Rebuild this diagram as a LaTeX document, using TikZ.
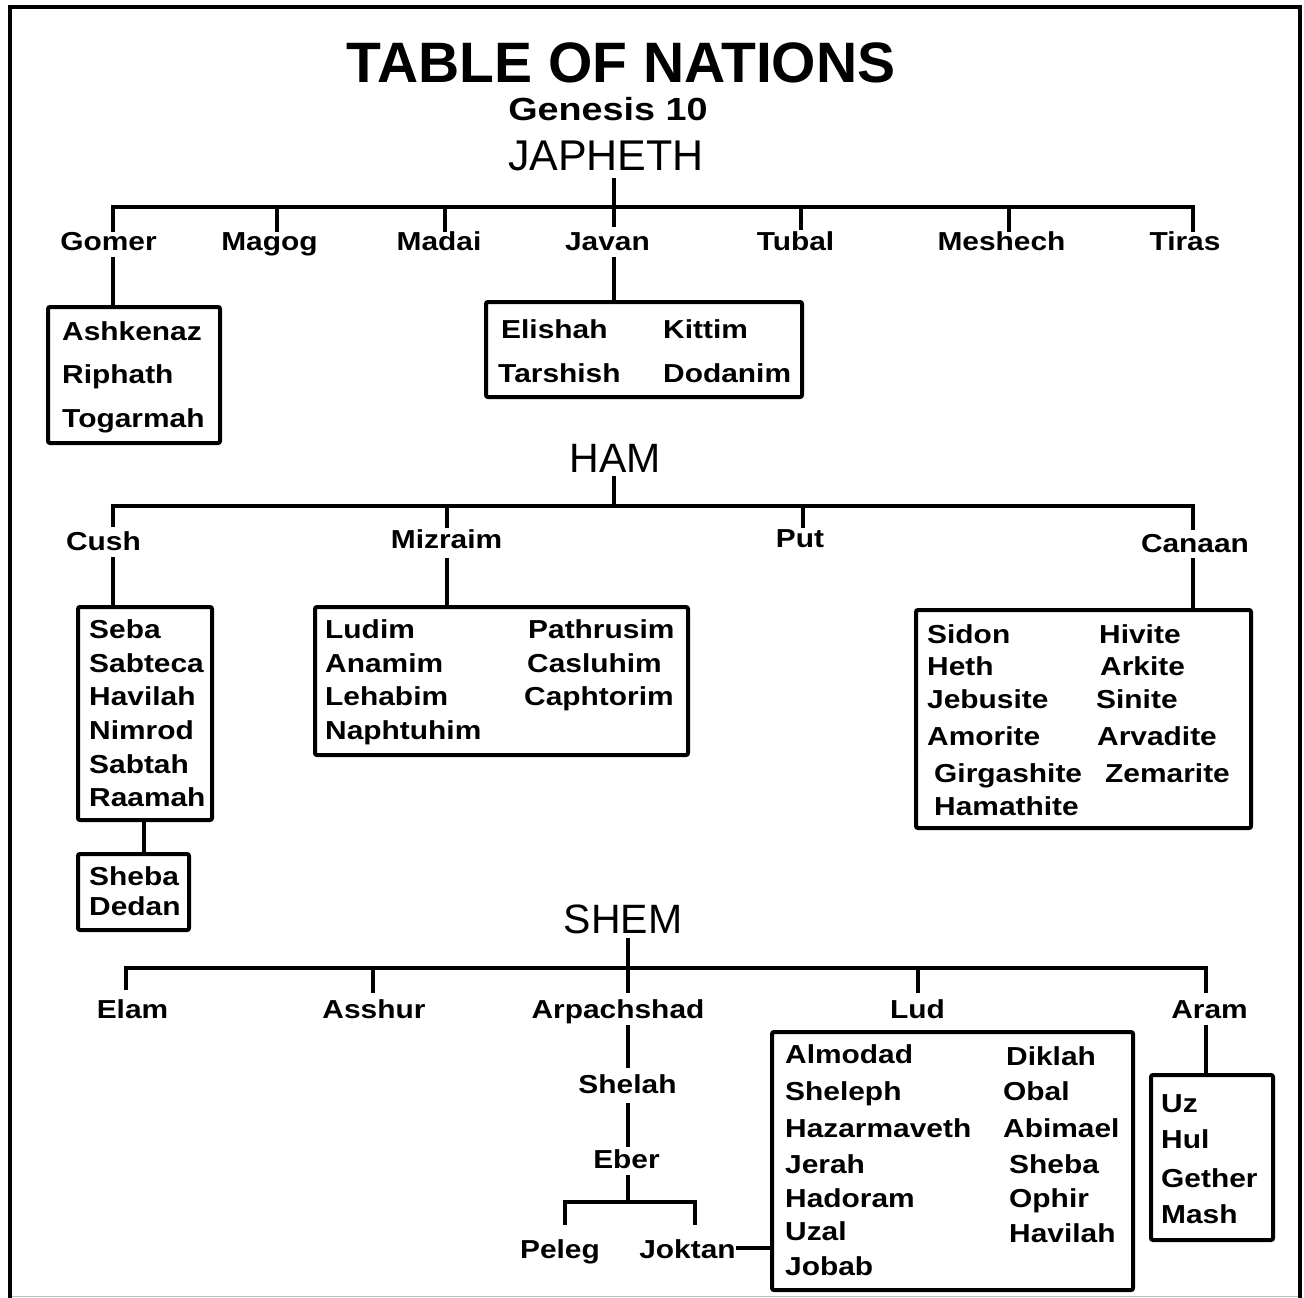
\documentclass[tikz,border=0pt]{standalone}
\usepackage{fontspec}
\setmainfont{Liberation Sans}
\newfontfamily\nmfam[FakeStretch=1.15]{Liberation Sans}
\newfontfamily\genfam[FakeStretch=1.18]{Liberation Sans}
\begin{document}
\begin{tikzpicture}[x=1pt,y=-1pt,
  ln/.style={line width=4pt},
  nm/.style={font=\nmfam\bfseries\fontsize{26}{30}\selectfont, inner sep=0pt, anchor=base},
  lst/.style={nm, anchor=base west},
  big/.style={font=\fontsize{43}{48}\selectfont, inner sep=0pt, anchor=base},
  box/.style={draw, line width=4pt, rounded corners=2pt, inner sep=0pt, outer sep=0pt}]
\useasboundingbox (0,0) rectangle (1304,1298);
% frame
\draw[line width=4pt] (9.5,1298) -- (9.5,7) -- (1300,7) -- (1300,1298);
\draw[black!25, line width=1pt] (11.5,1296.5) -- (1298,1296.5);

% titles
\node[inner sep=0pt, anchor=base, font=\bfseries\fontsize{57}{60}\selectfont] (title) at (621,82) {TABLE OF NATIONS};
\node[inner sep=0pt, anchor=base, font=\genfam\bfseries\fontsize{32}{36}\selectfont] (genesis) at (608,120) {Genesis 10};

% ===== JAPHETH =====
\node[big] (japheth) at (606,170) {JAPHETH};
\coordinate (jtop) at (614,178);
\coordinate (jbarL) at (113,207);
\coordinate (jbarR) at (1193,207);
\draw[ln] (jtop) -- (jtop |- jbarL);
\draw[ln] (113,232) -- (jbarL) -- (jbarR) -- (1193,232);
\foreach \x/\e in {277/232, 445/232, 614/227, 801/230, 1009/232}
  \draw[ln] (\x,207) -- (\x,\e);
\node[nm] (gomer) at (108.5,250) {Gomer};
\node[nm] (magog) at (269.5,250) {Magog};
\node[nm] (madai) at (439,250) {Madai};
\node[nm] (javan) at (607.5,250) {Javan};
\node[nm] (tubal) at (795.5,250) {Tubal};
\node[nm] (meshech) at (1001.5,250) {Meshech};
\node[nm] (tiras) at (1185,250) {Tiras};

\node[box, minimum width=172pt, minimum height=136pt] (gomerbox) at (134,375) {};
\node[lst] at (62,340) {Ashkenaz};
\node[lst] at (62,383) {Riphath};
\node[lst] at (62,427) {Togarmah};
\coordinate (gomx) at (113,257);
\draw[ln] (gomx) -- (gomx |- gomerbox.north);

\node[box, minimum width=316pt, minimum height=95pt] (javanbox) at (644,349.5) {};
\node[lst] at (501,338) {Elishah};
\node[lst] at (663,338) {Kittim};
\node[lst] at (498,382) {Tarshish};
\node[lst] at (663,382) {Dodanim};
\coordinate (javx) at (614,257);
\draw[ln] (javx) -- (javx |- javanbox.north);

% ===== HAM =====
\node[big, font=\fontsize{41}{46}\selectfont] (ham) at (615,472) {HAM};
\coordinate (htop) at (614,476);
\coordinate (hbarL) at (113,506);
\coordinate (hbarR) at (1193,506);
\draw[ln] (htop) -- (htop |- hbarL);
\draw[ln] (113,527) -- (hbarL) -- (hbarR) -- (1193,530);
\foreach \x/\e in {447/528, 803/528}
  \draw[ln] (\x,506) -- (\x,\e);
\node[nm] (cush) at (103.5,550) {Cush};
\node[nm] (mizraim) at (446.5,548) {Mizraim};
\node[nm] (put) at (800,547) {Put};
\node[nm] (canaan) at (1195,552) {Canaan};

\node[box, minimum width=134pt, minimum height=213pt] (cushbox) at (145,713.5) {};
\node[lst] at (89,638) {Seba};
\node[lst] at (89,672) {Sabteca};
\node[lst] at (89,705) {Havilah};
\node[lst] at (89,739) {Nimrod};
\node[lst] at (89,773) {Sabtah};
\node[lst] at (89,806) {Raamah};
\coordinate (cushx) at (113,557);
\draw[ln] (cushx) -- (cushx |- cushbox.north);

\node[box, minimum width=111pt, minimum height=76pt] (shebabox) at (133.5,892) {};
\node[lst] at (89,885) {Sheba};
\node[lst] at (89,915) {Dedan};
\coordinate (shebx) at (144,0);
\draw[ln] (shebx |- cushbox.south) -- (shebx |- shebabox.north);

\node[box, minimum width=373pt, minimum height=148pt] (mizbox) at (501.5,681) {};
\node[lst] at (325,638) {Ludim};
\node[lst] at (325,672) {Anamim};
\node[lst] at (325,705) {Lehabim};
\node[lst] at (325,739) {Naphtuhim};
\node[lst] at (528,638) {Pathrusim};
\node[lst] at (527,672) {Casluhim};
\node[lst] at (524,705) {Caphtorim};
\coordinate (mizx) at (447,558);
\draw[ln] (mizx) -- (mizx |- mizbox.north);

\node[box, minimum width=335pt, minimum height=218pt] (canbox) at (1083.5,719) {};
\node[lst] at (927,643) {Sidon};
\node[lst] at (927,675) {Heth};
\node[lst] at (927,708) {Jebusite};
\node[lst] at (927,745) {Amorite};
\node[lst] at (934,782) {Girgashite};
\node[lst] at (934,815) {Hamathite};
\node[lst] at (1099,643) {Hivite};
\node[lst] at (1100,675) {Arkite};
\node[lst] at (1096,708) {Sinite};
\node[lst] at (1097,745) {Arvadite};
\node[lst] at (1105,782) {Zemarite};
\coordinate (canx) at (1193,558);
\draw[ln] (canx) -- (canx |- canbox.north);

% ===== SHEM =====
\node[big, font=\fontsize{41}{46}\selectfont] (shem) at (623,933) {SHEM};
\coordinate (stop) at (628,938);
\coordinate (sbarL) at (126,968);
\coordinate (sbarR) at (1206,968);
\draw[ln] (stop) -- (stop |- sbarL);
\draw[ln] (126,990) -- (sbarL) -- (sbarR) -- (1206,993);
\foreach \x in {373, 628, 918}
  \draw[ln] (\x,968) -- (\x,993);
\node[nm] (elam) at (132.5,1018) {Elam};
\node[nm] (asshur) at (374,1018) {Asshur};
\node[nm] (arpachshad) at (618,1018) {Arpachshad};
\node[nm] (lud) at (917.5,1018) {Lud};
\node[nm] (aram) at (1209.5,1018) {Aram};

\node[nm] (shelah) at (627.5,1093) {Shelah};
\node[nm] (eber) at (626.5,1168) {Eber};
\node[nm] (peleg) at (560,1258) {Peleg};
\node[nm] (joktan) at (687.5,1258) {Joktan};
\coordinate (arpx) at (628,1025);
\draw[ln] (arpx) -- (628,1068);
\coordinate (shex) at (628,1103);
\draw[ln] (shex) -- (628,1147);
\coordinate (eberx) at (628,1175);
\coordinate (ebar) at (628,1202);
\draw[ln] (eberx) -- (ebar);
\draw[ln] (565,1225) -- (565,1202) -- (695,1202) -- (695,1225);

\node[box, minimum width=361pt, minimum height=258pt] (ludbox) at (952.5,1161) {};
\node[lst] at (785,1063) {Almodad};
\node[lst] at (785,1100) {Sheleph};
\node[lst] at (785,1137) {Hazarmaveth};
\node[lst] at (785,1173) {Jerah};
\node[lst] at (785,1207) {Hadoram};
\node[lst] at (785,1240) {Uzal};
\node[lst] at (785,1275) {Jobab};
\node[lst] at (1006,1065) {Diklah};
\node[lst] at (1003,1100) {Obal};
\node[lst] at (1003,1137) {Abimael};
\node[lst] at (1009,1173) {Sheba};
\node[lst] at (1009,1207) {Ophir};
\node[lst] at (1009,1242) {Havilah};
\coordinate (jokx) at (736,1248);
\draw[ln] (jokx) -- (jokx -| ludbox.west);

\node[box, minimum width=122pt, minimum height=165pt] (arambox) at (1212,1157.5) {};
\node[lst] at (1161,1112) {Uz};
\node[lst] at (1161,1148) {Hul};
\node[lst] at (1161,1187) {Gether};
\node[lst] at (1161,1223) {Mash};
\coordinate (aramx) at (1206,1025);
\draw[ln] (aramx) -- (aramx |- arambox.north);
\end{tikzpicture}
\end{document}
